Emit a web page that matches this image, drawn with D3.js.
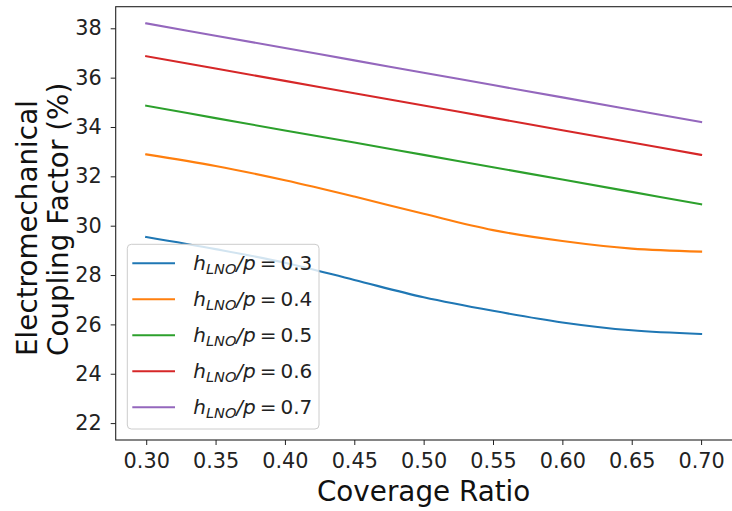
<!DOCTYPE html>
<html><head><meta charset="utf-8">
<script src="https://cdn.jsdelivr.net/npm/d3@7"></script>
<style>body{margin:0;background:#fff}svg{display:block}</style>
</head><body><svg id="c" width="732" height="511"></svg>
<script>
const coverage = [0.30,0.35,0.40,0.45,0.50,0.55,0.60,0.65,0.70];
const ratios = ["0.3","0.4","0.5","0.6","0.7"];
const k03 = [29.54,29.05,28.50,27.80,27.10,26.55,26.08,25.76,25.61];
const k04 = [32.89,32.42,31.84,31.18,30.48,29.82,29.38,29.07,28.95];
const k05 = [34.86,34.36,33.86,33.37,32.87,32.37,31.87,31.37,30.87];
const k06 = [36.87,36.37,35.87,35.37,34.87,34.37,33.87,33.37,32.87];
const k07 = [38.20,37.70,37.20,36.70,36.20,35.70,35.20,34.70,34.20];
const seriesValues = [k03,k04,k05,k06,k07];
const xTicks = [0.30,0.35,0.40,0.45,0.50,0.55,0.60,0.65,0.70];
const yTicks = [22,24,26,28,30,32,34,36,38];
const colors = ["#1f77b4","#ff7f0e","#2ca02c","#d62728","#9467bd"];
const xLabel = "Coverage Ratio";
const yLabelLines = ["Electromechanical","Coupling Factor (%)"];

const FONT = "DejaVu Sans";
const L = 115.7, R = 731.6, T = 6.7, B = 440;
const svg = d3.select("#c");
svg.append("rect").attr("width",732).attr("height",511).attr("fill","#fff");

const x = d3.scaleLinear().domain([0.278,0.722]).range([L,R]);
const y = d3.scaleLinear().domain([21.315,38.875]).range([B,T]);

// lines
const line = d3.line().x((d,i)=>x(coverage[i])).y(d=>y(d)).curve(d3.curveCatmullRom.alpha(0.5));
const gLines = svg.append("g");
seriesValues.forEach((vals,k)=>{
  gLines.append("path").attr("d",line(vals)).attr("fill","none")
    .attr("stroke",colors[k]).attr("stroke-width",2.1).attr("stroke-linecap","square");
});

// axes
const xAxis = svg.append("g").attr("transform",`translate(0,${B})`)
  .call(d3.axisBottom(x).tickValues(xTicks).tickFormat(d3.format(".2f")).tickSize(5).tickPadding(8));
const yAxis = svg.append("g").attr("transform",`translate(${L},0)`)
  .call(d3.axisLeft(y).tickValues(yTicks).tickFormat(d3.format("d")).tickSize(5).tickPadding(9));
[xAxis,yAxis].forEach(g=>{
  g.select(".domain").remove();
  g.selectAll(".tick line").attr("stroke","#222").attr("stroke-width",1);
  g.selectAll(".tick text").attr("fill","#222").style("font-family",FONT).style("font-size","20.8px");
});

// frame
svg.append("rect").attr("x",L).attr("y",T).attr("width",R-L+1.5).attr("height",B-T)
  .attr("fill","none").attr("stroke","#222").attr("stroke-width",1.1);

// axis labels
svg.append("text").attr("x",(L+R)/2).attr("y",501).attr("text-anchor","middle")
  .style("font-family",FONT).style("font-size","27.8px").attr("fill","#111").text(xLabel);
const yl = svg.append("g").attr("transform","translate(37.3,356) rotate(-90)");
yLabelLines.forEach((t,i)=>{
  yl.append("text").attr("x",0).attr("y",i*31).attr("text-anchor","start")
    .style("font-family",FONT).style("font-size","27.8px").attr("fill","#111").text(t);
});

// legend
const lg = svg.append("g");
lg.append("rect").attr("x",127.3).attr("y",244.3).attr("width",191.7).attr("height",184.7)
  .attr("rx",4).attr("fill","#fff").attr("fill-opacity",0.8).attr("stroke","#ccc").attr("stroke-width",1);
ratios.forEach((r,i)=>{
  const cy = 263.3 + i*36;
  lg.append("line").attr("x1",132.3).attr("x2",175).attr("y1",cy).attr("y2",cy)
    .attr("stroke",colors[i]).attr("stroke-width",2.1);
  const t = lg.append("text").attr("x",193.3).attr("y",cy+7)
    .style("font-family",FONT).style("font-size","20px").attr("fill","#222");
  t.append("tspan").style("font-style","italic").text("h");
  t.append("tspan").style("font-style","italic").style("font-size","14.5px").attr("dy",4).text("LNO");
  t.append("tspan").style("font-style","italic").attr("dy",-4).text("/p");
  t.append("tspan").attr("dx",4).text("=");
  t.append("tspan").attr("dx",4).text(r);
});
</script></body></html>
